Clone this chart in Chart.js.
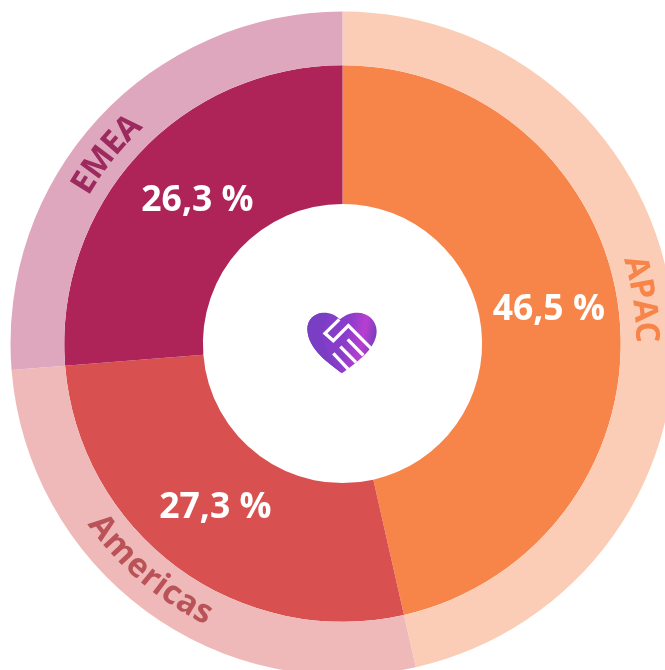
<!DOCTYPE html>
<html><head><meta charset="utf-8">
<script src="https://cdn.jsdelivr.net/npm/chart.js@4"></script>
<style>html,body{margin:0;padding:0;background:#fff;width:665px;height:670px;overflow:hidden}canvas{display:block}</style>
</head><body><canvas id="c" width="685" height="687"></canvas>
<script>
const regions = ['APAC','Americas','EMEA'];
const shares = [46.5,27.3,26.3];
const solidColors = ['#F78448','#D95050','#AE2459'];
const paleColors = ['#FCCDB6','#F0B9B9','#DFA7BD'];
const nameColors = ['#F78448','#BA5358','#9C2A5E'];
const FONT = '"Open Sans"';

const labelsPlugin = {
  id:'labels',
  afterDatasetsDraw(chart){
    const ctx = chart.ctx;
    const outer = chart.getDatasetMeta(0).data, inner = chart.getDatasetMeta(1).data;
    const pctShift = [-2.8,1.4,1.8];
    const pctRadial = [0,-1,-5.5];
    const nameShift = [-2,4,-4];
    ctx.save();
    ctx.textAlign='center'; ctx.textBaseline='middle';
    inner.forEach((a,i)=>{
      const ang=(a.startAngle+a.endAngle)/2+pctShift[i]*Math.PI/180;
      const r=(a.innerRadius+a.outerRadius)/2+pctRadial[i];
      ctx.font='700 35.5px '+FONT; ctx.fillStyle='#fff';
      ctx.fillText(String(shares[i]).replace('.',',')+' %',a.x+r*Math.cos(ang),a.y+r*Math.sin(ang));
    });
    outer.forEach((a,i)=>{
      const mid=(a.startAngle+a.endAngle)/2+nameShift[i]*Math.PI/180;
      const r=(a.innerRadius+a.outerRadius)/2-2;
      const txt=regions[i];
      ctx.font='700 33px '+FONT; ctx.fillStyle=nameColors[i];
      const total=ctx.measureText(txt).width;
      const deg=((mid+Math.PI/2)*180/Math.PI+360)%360;
      const flip=deg>90&&deg<270;
      const dir=flip?-1:1;
      let cur=-total/2;
      for(let k=0;k<txt.length;k++){
        const w=ctx.measureText(txt.slice(0,k+1)).width-ctx.measureText(txt.slice(0,k)).width;
        const th=mid+dir*(cur+w/2)/r;
        ctx.save();
        ctx.translate(a.x+r*Math.cos(th),a.y+r*Math.sin(th));
        ctx.rotate(th+(flip?-Math.PI/2:Math.PI/2));
        ctx.fillText(txt[k],0,0);
        ctx.restore();
        cur+=w;
      }
    });
    ctx.restore();
    drawLogo(ctx);
  }
};
function drawLogo(ctx){
  ctx.save();
  ctx.translate(280,290); ctx.scale(1/3,1/3);
  const heart=new Path2D('M186 250 C150 222 84 180 82 118 C82 88 104 68 132 68 C152 68 168 76 180 88 C194 76 210 68 232 68 C264 68 290 92 290 124 C290 178 224 222 186 250 Z');
  let g=ctx.createLinearGradient(82,120,290,160);
  g.addColorStop(0,'#7B3FC6');g.addColorStop(.55,'#8A3CCB');g.addColorStop(.8,'#B73FD0');g.addColorStop(1,'#6F3EB8');
  ctx.fillStyle=g; ctx.fill(heart);
  ctx.save(); ctx.clip(heart);
  const sw=new Path2D('M150 72 C120 110 112 170 186 250 L120 230 L60 120 L90 60 Z');
  ctx.fillStyle='#7A3EC4'; ctx.fill(sw);
  ctx.restore();
  ctx.strokeStyle='#fff'; ctx.lineWidth=10; ctx.lineCap='butt'; ctx.lineJoin='miter';
  ctx.beginPath();
  ctx.moveTo(178,88);ctx.lineTo(135,130);ctx.lineTo(160,152);ctx.lineTo(205,107);ctx.lineTo(276,178);
  ctx.moveTo(203,148);ctx.lineTo(250,196);
  ctx.moveTo(181,170);ctx.lineTo(228,217);
  ctx.moveTo(160,190);ctx.lineTo(205,238);
  ctx.stroke();
  ctx.restore();
}
new Chart(document.getElementById('c'),{
  type:'doughnut',
  data:{labels:regions,datasets:[
    {data:shares,backgroundColor:paleColors,borderWidth:0,weight:52.5},
    {data:shares,backgroundColor:solidColors,borderWidth:0,weight:135.5}
  ]},
  options:{responsive:false,animation:false,radius:332,cutout:144,
    layout:{padding:0},
    plugins:{legend:{display:false},tooltip:{enabled:false},title:{display:false}}},
  plugins:[labelsPlugin]
});
</script></body></html>
